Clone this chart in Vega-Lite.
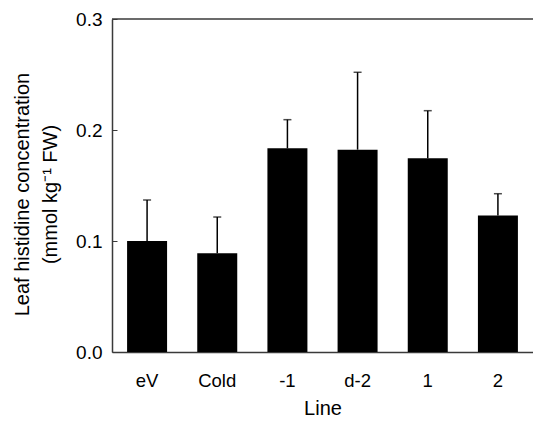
{
  "$schema": "https://vega.github.io/schema/vega-lite/v6.json",
  "width": 421,
  "height": 333,
  "autosize": {"type": "none"},
  "padding": {"left": 112, "top": 19, "right": 0, "bottom": 70},
  "background": "white",
  "config": {
    "view": {"stroke": null},
    "font": "Liberation Sans",
    "axis": {"grid": false, "labelColor": "black", "titleColor": "black", "titleFontWeight": "normal", "domainColor": "#3a3a3a", "domainWidth": 1.5, "tickColor": "#3a3a3a"}
  },
  "data": {
    "values": [
      {"line": "eV", "mean": 0.100, "upper": 0.137},
      {"line": "Cold", "mean": 0.089, "upper": 0.1216},
      {"line": "-1", "mean": 0.1835, "upper": 0.2093},
      {"line": "d-2", "mean": 0.1823, "upper": 0.252},
      {"line": "1", "mean": 0.1745, "upper": 0.2174},
      {"line": "2", "mean": 0.123, "upper": 0.1426}
    ]
  },
  "layer": [
    {
      "mark": {"type": "bar", "color": "black"},
      "encoding": {
        "x": {
          "field": "line", "type": "nominal", "sort": null,
          "scale": {"paddingInner": 0.43, "paddingOuter": 0.215},
          "axis": {"title": "Line", "labelAngle": 0, "ticks": false, "labelFontSize": 18.5, "labelPadding": 19, "titleFontSize": 20, "titlePadding": 9}
        },
        "y": {
          "field": "mean", "type": "quantitative",
          "scale": {"domain": [0, 0.3], "nice": false},
          "axis": {
            "title": ["Leaf histidine concentration", "(mmol kg⁻¹ FW)"],
            "values": [0, 0.1, 0.2, 0.3], "format": ".1f",
            "tickSize": -5, "tickWidth": 1, "labelPadding": 15,
            "labelFontSize": 19, "titleFontSize": 20, "titleLineHeight": 28,
            "titleX": -80, "titleY": 175
          }
        }
      }
    },
    {
      "mark": {"type": "rule", "color": "black", "strokeWidth": 1.5},
      "encoding": {
        "x": {"field": "line", "type": "nominal", "sort": null},
        "y": {"field": "mean", "type": "quantitative"},
        "y2": {"field": "upper"}
      }
    },
    {
      "mark": {"type": "tick", "color": "black", "size": 8, "thickness": 1.5},
      "encoding": {
        "x": {"field": "line", "type": "nominal", "sort": null},
        "y": {"field": "upper", "type": "quantitative"}
      }
    },
    {
      "data": {"values": [{}]},
      "mark": {"type": "rule", "color": "#3a3a3a", "strokeWidth": 1.5},
      "encoding": {"y": {"datum": 0.3, "type": "quantitative"}}
    }
  ]
}
